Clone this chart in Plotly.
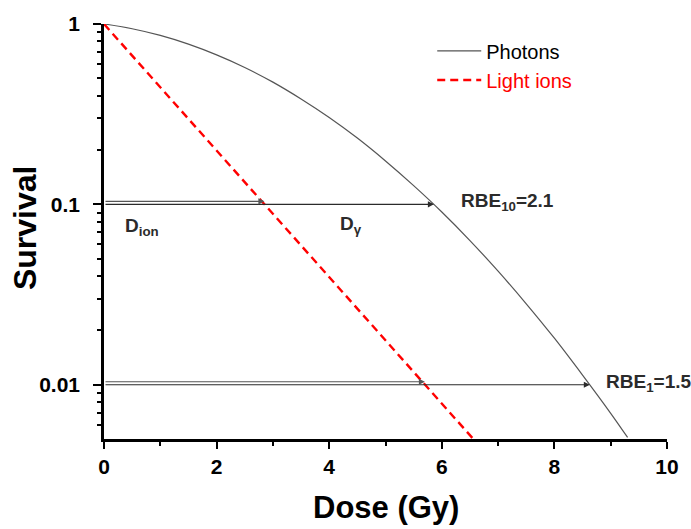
import math
import plotly.graph_objects as go

# Photon (X-ray) survival curve, linear-quadratic shape
photon_dose = [0, 0.5, 1, 1.5, 2, 2.5, 3, 3.5, 4, 4.5, 5, 5.5, 6, 6.5, 7, 7.5, 8, 8.5, 9, 9.3]
photon_surv = [1.0, 0.941, 0.864, 0.773, 0.674, 0.574, 0.476, 0.384, 0.303, 0.233,
               0.174, 0.127, 0.0907, 0.0630, 0.0426, 0.0281, 0.0181, 0.0113, 0.00694, 0.00510]

# Light-ion survival: pure exponential (straight line on log scale)
ion_dose = [0, 6.56]
ion_surv = [1.0, 0.005]

# Iso-effect levels and the doses that reach them
iso_levels = [0.1, 0.01]
iso_names = ["10", "1"]
ion_iso_dose = [2.85, 5.70]
photon_iso_dose = [5.86, 8.63]

y_ticks = [0.01, 0.1, 1]
y_ticktext = ["0.01", "0.1", "1"]
y_minor = [0.006, 0.007, 0.008, 0.009,
           0.02, 0.03, 0.04, 0.05, 0.06, 0.07, 0.08, 0.09,
           0.2, 0.3, 0.4, 0.5, 0.6, 0.7, 0.8, 0.9]

FONT = "Liberation Sans, Arial, Helvetica, sans-serif"
INK = "#2b2b2b"

fig = go.Figure()
fig.add_trace(go.Scatter(
    x=photon_dose, y=photon_surv, mode="lines", name="Photons",
    line=dict(color="#555555", width=1.2, shape="spline"),
))
fig.add_trace(go.Scatter(
    x=ion_dose, y=ion_surv, mode="lines",
    name="<span style='color:#ff0000'>Light ions</span>",
    line=dict(color="#ff0000", width=2.4, dash="8px,5px"),
))

annotations = []
for lvl, nm, d_ion, d_ph in zip(iso_levels, iso_names, ion_iso_dose, photon_iso_dose):
    ly = math.log10(lvl)
    # arrow to the photon curve
    annotations.append(dict(
        x=d_ph, y=ly, ax=0, ay=ly, xref="x", yref="y", axref="x", ayref="y",
        text="", showarrow=True, arrowhead=2, arrowsize=1.1, arrowwidth=1.1,
        arrowcolor=INK,
    ))
    # arrow to the light-ion line, drawn just above
    annotations.append(dict(
        x=d_ion, y=ly, ax=0, ay=ly, xref="x", yref="y", axref="x", ayref="y",
        text="", showarrow=True, arrowhead=2, arrowsize=1.1, arrowwidth=1.1,
        arrowcolor="#555555", yshift=3,
    ))
    rbe = d_ph / d_ion
    annotations.append(dict(
        x=d_ph + 0.45 + (0.0 if nm == "10" else -0.2), y=ly, xref="x", yref="y",
        text=f"<b>RBE<sub>{nm}</sub>=%.1f</b>" % rbe, showarrow=False,
        xanchor="left", yanchor="middle", yshift=2,
        font=dict(family=FONT, size=19, color=INK),
    ))

annotations.append(dict(
    x=0.33, y=math.log10(0.1), xref="x", yref="y", text="<b>D<sub>ion</sub></b>",
    showarrow=False, xanchor="left", yanchor="middle", yshift=-23,
    font=dict(family=FONT, size=19, color=INK),
))
annotations.append(dict(
    x=4.15, y=math.log10(0.1), xref="x", yref="y", text="<b>D<sub>γ</sub></b>",
    showarrow=False, xanchor="left", yanchor="middle", yshift=-21,
    font=dict(family=FONT, size=19, color=INK),
))

# Axis titles
annotations.append(dict(
    x=0.5, y=-0.166, xref="paper", yref="paper", text="<b>Dose (Gy)</b>",
    showarrow=False, xanchor="center", yanchor="middle",
    font=dict(family=FONT, size=31, color="black"),
))
annotations.append(dict(
    x=-0.139, y=0.51, xref="paper", yref="paper", text="<b>Survival</b>",
    showarrow=False, xanchor="center", yanchor="middle", textangle=-90,
    font=dict(family=FONT, size=32, color="black"),
))

fig.update_layout(
    width=691, height=529,
    margin=dict(l=104, r=22, t=22, b=90),
    paper_bgcolor="white", plot_bgcolor="white",
    font=dict(family=FONT, color="black"),
    showlegend=True,
    legend=dict(
        x=0.583, y=0.982, xanchor="left", yanchor="top",
        bgcolor="rgba(0,0,0,0)", font=dict(family=FONT, size=20, color="black"),
        tracegroupgap=0, itemwidth=44,
    ),
    annotations=annotations,
)

fig.update_xaxes(
    range=[0, 10], dtick=2, tick0=0, showgrid=False, zeroline=False,
    showline=True, linewidth=2.5, linecolor="black", mirror=False,
    ticks="outside", ticklen=7, tickwidth=2, tickcolor="black",
    tickfont=dict(family=FONT, size=21, color="black", weight="bold"),
    minor=dict(dtick=1, ticks="outside", ticklen=4, tickwidth=2, tickcolor="black"),
)
fig.update_yaxes(
    type="log", range=[math.log10(0.005), 0],
    tickvals=y_ticks, ticktext=y_ticktext, showgrid=False, zeroline=False,
    showline=True, linewidth=2.5, linecolor="black", mirror=False,
    ticks="outside", ticklen=8, tickwidth=2, tickcolor="black",
    ticklabelstandoff=9,
    tickfont=dict(family=FONT, size=21, color="black", weight="bold"),
    minor=dict(tickvals=y_minor, ticks="outside", ticklen=4, tickwidth=2,
               tickcolor="black", showgrid=False),
)

fig.write_html("out.html")
